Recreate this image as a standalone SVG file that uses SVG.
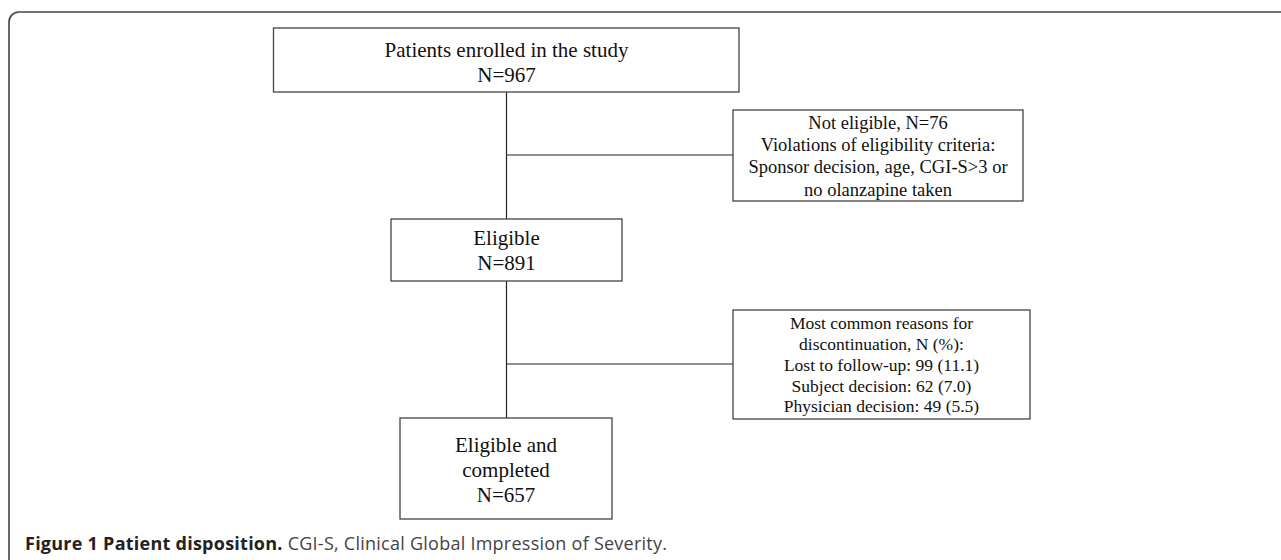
<svg xmlns="http://www.w3.org/2000/svg" width="1281" height="560" viewBox="0 0 1281 560">
<style>
.box{fill:#fff;stroke:#444;stroke-width:1.3}
.t{font-family:"Liberation Serif","Times New Roman",serif;fill:#111;text-anchor:middle}
.big{font-size:21px}
.mid{font-size:18.5px}
.sm{font-size:17.5px}
.conn{stroke:#222;stroke-width:1.2;fill:none}
.cap{font-family:"Open Sans","Noto Sans",sans-serif;font-size:18px;fill:#444;letter-spacing:0.25px}
</style>
<rect x="9" y="12" width="1300" height="580" rx="10" ry="10" fill="none" stroke="#444" stroke-width="1.6"/>
<g id="connectors">
<line class="conn" x1="506.5" y1="92" x2="506.5" y2="219"/>
<line class="conn" x1="506.5" y1="155" x2="733" y2="155"/>
<line class="conn" x1="506.5" y1="281" x2="506.5" y2="418"/>
<line class="conn" x1="506.5" y1="364" x2="733" y2="364"/>
</g>
<g id="enrolled">
<rect class="box" x="273.5" y="28" width="465.5" height="64"/>
<text class="t big" x="506.5" y="57">Patients enrolled in the study</text>
<text class="t big" x="506.5" y="82">N=967</text>
</g>
<g id="not-eligible">
<rect class="box" x="733" y="110" width="290" height="91"/>
<text class="t mid" x="878" y="129">Not eligible, N=76</text>
<text class="t mid" x="878" y="151">Violations of eligibility criteria:</text>
<text class="t mid" x="878" y="173">Sponsor decision, age, CGI-S&gt;3 or</text>
<text class="t mid" x="878" y="196">no olanzapine taken</text>
</g>
<g id="eligible">
<rect class="box" x="391" y="219" width="231" height="62"/>
<text class="t big" x="506.5" y="245">Eligible</text>
<text class="t big" x="506.5" y="270">N=891</text>
</g>
<g id="discontinuation">
<rect class="box" x="733" y="310" width="297" height="109"/>
<text class="t sm" x="881.5" y="329">Most common reasons for</text>
<text class="t sm" x="881.5" y="350">discontinuation, N (%):</text>
<text class="t sm" x="881.5" y="371">Lost to follow-up: 99 (11.1)</text>
<text class="t sm" x="881.5" y="392">Subject decision: 62 (7.0)</text>
<text class="t sm" x="881.5" y="412">Physician decision: 49 (5.5)</text>
</g>
<g id="completed">
<rect class="box" x="400" y="418" width="212" height="101"/>
<text class="t big" x="506" y="452">Eligible and</text>
<text class="t big" x="506" y="477">completed</text>
<text class="t big" x="506" y="502">N=657</text>
</g>
<text class="cap" x="25" y="550"><tspan font-weight="bold" fill="#222">Figure 1 Patient disposition.</tspan> CGI-S, Clinical Global Impression of Severity.</text>
</svg>
